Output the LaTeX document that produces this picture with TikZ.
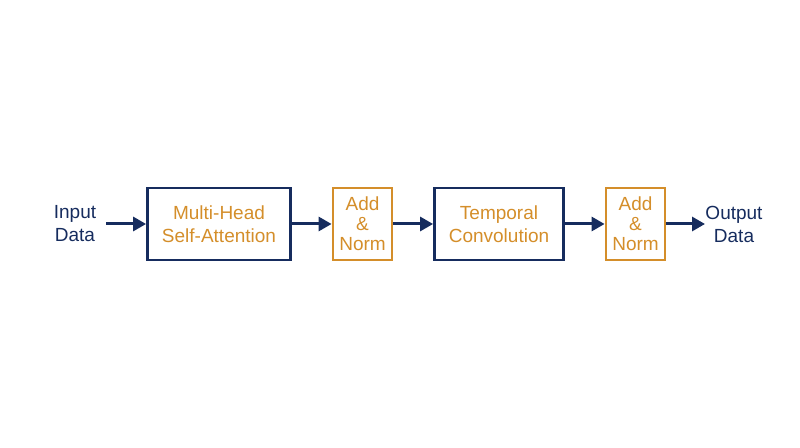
\documentclass[tikz,border=0pt]{standalone}
\usepackage{fontspec}
\setmainfont{Liberation Sans}
\usepackage{tikz}
\usetikzlibrary{arrows.meta,positioning}
\definecolor{navy}{RGB}{22,44,94}
\definecolor{gold}{RGB}{212,142,42}
\tikzset{%
	block/.style  = {draw=navy, line width=2.8pt, rectangle, minimum height=72pt, text=gold, align=center, font=\fontsize{19}{23}\selectfont},
	addnorm/.style= {draw=gold, line width=2.8pt, rectangle, minimum width=59pt, minimum height=72pt, text=gold, align=center, font=\fontsize{19}{20}\selectfont},
	io/.style     = {text=navy, align=center, font=\fontsize{19}{23}\selectfont},
	arrow/.style  = {draw=navy, line width=3pt, -{Triangle[length=13pt,width=14pt]}},
}
\begin{document}
\begin{tikzpicture}[x=1pt,y=1pt]
			\useasboundingbox (0,0) rectangle (800,447);
			\node[io] (in) at (75,223) {Input\\Data};
			\node[block, minimum width=143pt] (mha) at (219,223) {Multi-Head\\Self-Attention};
			\node[addnorm] (an1) at (362.5,223) {Add\\\&\\Norm};
			\node[block, minimum width=129pt] (conv) at (499,223) {Temporal\\Convolution};
			\node[addnorm] (an2) at (635.5,223) {Add\\\&\\Norm};
			\node[io] (out) at (734,223) {Output\\Data};
			\draw[arrow] (106,223) -- (mha.west);
			\draw[arrow] (mha.east) -- (an1.west);
			\draw[arrow] (an1.east) -- (conv.west);
			\draw[arrow] (conv.east) -- (an2.west);
			\draw[arrow] (an2.east) -- (705,223);
			\end{tikzpicture}
\end{document}
